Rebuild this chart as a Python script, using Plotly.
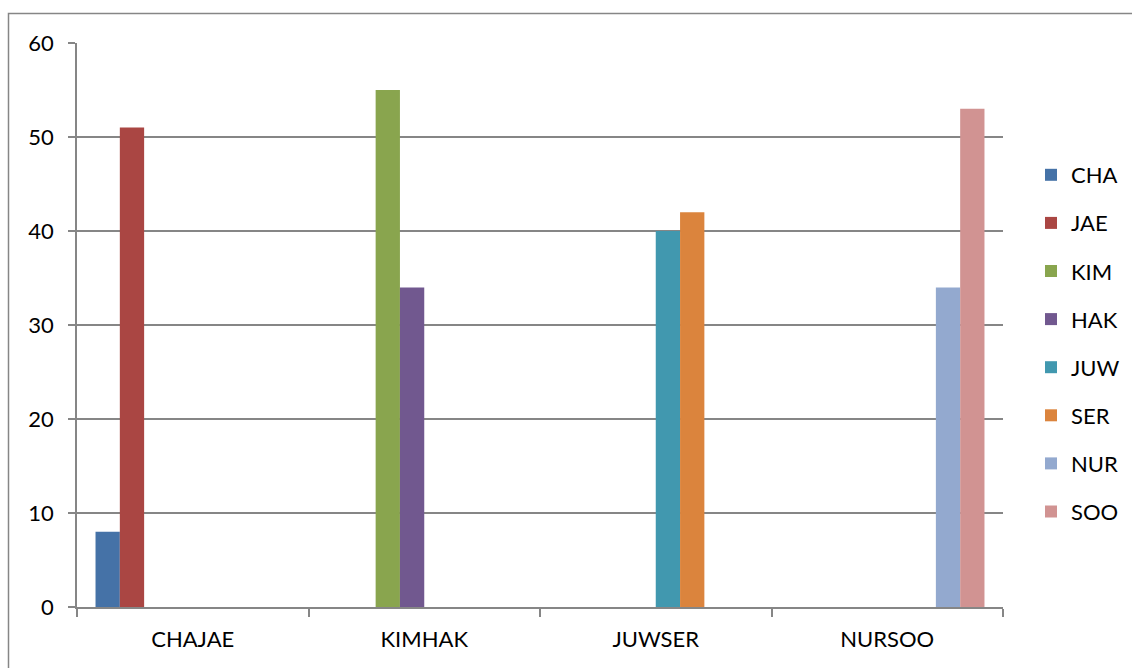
import plotly.graph_objects as go

categories = ["CHAJAE", "KIMHAK", "JUWSER", "NURSOO"]
series_names = ["CHA", "JAE", "KIM", "HAK", "JUW", "SER", "NUR", "SOO"]
series_values = [
    [8, None, None, None],
    [51, None, None, None],
    [None, 55, None, None],
    [None, 34, None, None],
    [None, None, 40, None],
    [None, None, 42, None],
    [None, None, None, 34],
    [None, None, None, 53],
]
colors = ["#4572A7", "#AA4643", "#89A54E", "#71588F", "#4198AF", "#DB843D", "#93A9CF", "#D19392"]

W, H = 1132, 668
L, R, T, B = 77, 129, 43, 61

fig = go.Figure()
for name, vals, c in zip(series_names, series_values, colors):
    fig.add_trace(go.Bar(x=categories, y=vals, name=name, marker_color=c,
                         marker_line_width=0, legendgroup=name))

font = dict(family="Lato, 'Open Sans', sans-serif", size=22, color="#000000")
pw = W - L - R
ph = H - T - B
fig.update_layout(
    width=W, height=H,
    margin=dict(l=L, r=R, t=T, b=B),
    paper_bgcolor="white", plot_bgcolor="white",
    barmode="group", bargap=0.16, bargroupgap=0,
    font=font,
    showlegend=True,
    legend=dict(xref="container", yref="container", x=1031 / W, y=1 - 154 / H,
                xanchor="left", yanchor="top", maxheight=640,
                traceorder="grouped", tracegroupgap=16.5, font=font,
                itemwidth=30, bgcolor="rgba(0,0,0,0)"),
    xaxis=dict(showline=True, linecolor="#868686", linewidth=1.5, ticks="outside",
               tickson="boundaries", ticklen=8, tickcolor="#868686", tickwidth=1.5,
               showgrid=False, tickfont=font, ticklabelstandoff=12),
    yaxis=dict(range=[0, 60], dtick=10, showline=True, linecolor="#868686", linewidth=1.5,
               ticks="outside", ticklen=7, tickcolor="#868686", tickwidth=1.5,
               showgrid=True, gridcolor="#868686", gridwidth=1.5, zeroline=False,
               tickfont=font, ticklabelstandoff=10),
    shapes=[dict(type="rect", xref="paper", yref="paper",
                 x0=(8.5 - L) / pw, x1=(W + 20 - L) / pw,
                 y0=-(H + 20 - T - ph) / ph, y1=1 + (T - 13.5) / ph,
                 line=dict(color="#868686", width=1.5), layer="below")],
)
fig.write_html("out.html")
